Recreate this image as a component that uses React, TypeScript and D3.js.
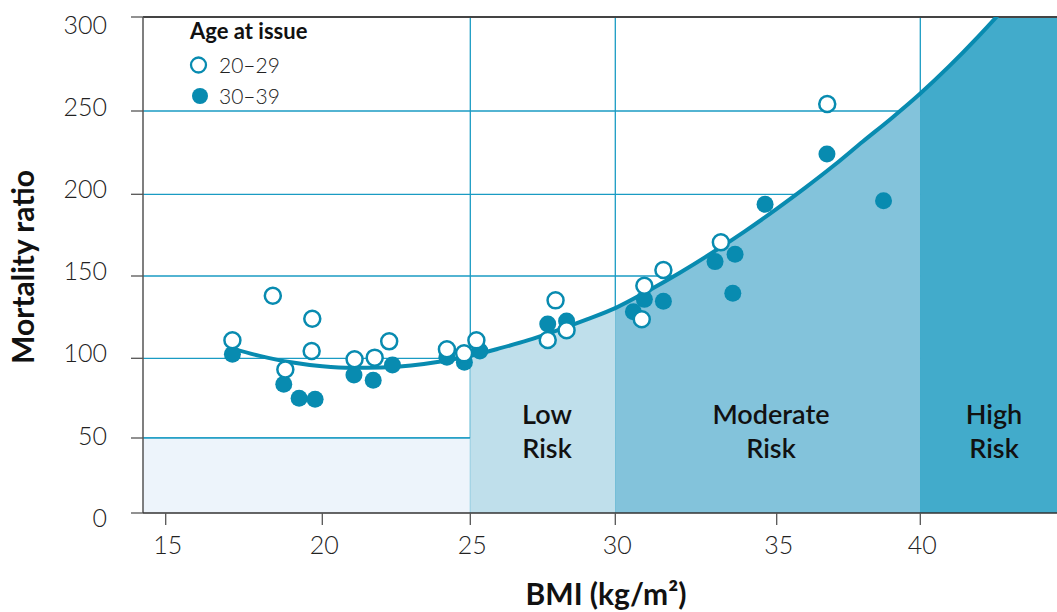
import React from "react";
import * as d3 from "d3";

// tick values
const bmiTicks = [15, 20, 25, 30, 35, 40];
const ratioTicks = [0, 50, 100, 150, 200, 250, 300];
const gridRatios = [50, 100, 150, 200, 250];
const gridBmis = [25, 30, 40];

// age at issue 20-29 (open circles): [bmi, mortality ratio]
const age2029 = [
  [17.13, 111], [18.42, 138], [19.68, 124], [19.66, 104.4], [18.82, 93],
  [21.09, 99.4], [21.77, 100.4], [22.26, 110.3], [24.21, 105.5], [24.79, 103],
  [25.21, 110.9], [27.94, 135.2], [27.67, 111.1], [28.32, 117], [30.9, 144.1],
  [30.82, 123.7], [31.49, 153.7], [33.27, 170.6], [36.76, 253.7],
];

// age at issue 30-39 (filled circles)
const age3039 = [
  [17.13, 102.4], [18.77, 83.7], [19.26, 74.9], [19.77, 74.3], [21.07, 89.5],
  [21.72, 86.2], [22.37, 95.8], [24.21, 100.6], [24.8, 97.5], [25.33, 104.4],
  [27.67, 120.8], [28.32, 122.7], [30.56, 128.3], [30.9, 135.8], [31.49, 134.6],
  [33.09, 158.8], [33.71, 163.3], [33.64, 139.5], [34.64, 193.9], [36.75, 224.2],
  [38.72, 196.1],
];

// fitted curve
const fitBmi = [17.1, 18, 19, 20, 21, 22, 23, 24, 25, 26, 27, 28, 29, 30, 31, 32, 33, 34, 35, 36, 37, 38, 39, 40, 41, 42, 43, 44, 45];
const fitRatio = [106, 101.5, 97.5, 95, 94, 94.2, 95.5, 98, 101.5, 106, 111, 117, 123.5, 130.5, 140.8, 152, 164.2, 177.2, 191.1, 204, 217.4, 231.7, 245.7, 259.3, 273.7, 289.3, 306, 324, 343];

// risk bands
const bands = [
  { label: ["Low", "Risk"], from: 25, to: 30, color: "#bfdfeb" },
  { label: ["Moderate", "Risk"], from: 30, to: 40, color: "#83c3db" },
  { label: ["High", "Risk"], from: 40, to: 45, color: "#42abcb" },
];
const bandLabelX = [547, 771, 994];

const TEAL = "#088bb0";
const GRID = "#1a9bc3";
const FONT = "Lato, 'Open Sans', sans-serif";

export default function App() {
  const W = 1057;
  const H = 612;
  const left = 143;
  const right = 1057;
  const top = 17;
  const bottom = 513;

  // the printed axes are not quite even, so follow them piece by piece
  const x = d3.scaleLinear().domain(bmiTicks).range([165.7, 322.3, 470.3, 615.3, 776.7, 920.3]);
  const y = d3.scaleLinear().domain(ratioTicks).range([513, 438, 358.3, 276, 194.3, 111, 17]);
  const yLabel = d3.scaleLinear().domain([0, 300]).range([516.7, 23.7]);

  const fit = fitBmi.map((b, i) => [b, fitRatio[i]]);
  const line = d3
    .line<number[]>()
    .x((d) => x(d[0]))
    .y((d) => y(d[1]))
    .curve(d3.curveMonotoneX);
  const area = d3
    .area<number[]>()
    .x((d) => x(d[0]))
    .y0(bottom)
    .y1((d) => y(d[1]))
    .curve(d3.curveMonotoneX);

  return (
    <svg width={W} height={H} style={{ position: "absolute", left: 0, top: 0, fontFamily: FONT }}>
      <defs>
        <clipPath id="plot">
          <rect x={left} y={top} width={right - left} height={bottom - top} />
        </clipPath>
        {bands.map((b, i) => (
          <clipPath id={"band" + i} key={i}>
            <rect x={x(b.from)} y={top} width={Math.min(x(b.to), right) - x(b.from)} height={bottom - top} />
          </clipPath>
        ))}
      </defs>

      {/* grid */}
      {gridRatios.map((r) => (
        <line key={r} x1={left} x2={right} y1={y(r)} y2={y(r)} stroke={GRID} strokeWidth={1.3} />
      ))}
      {gridBmis.map((b) => (
        <line key={b} x1={x(b)} x2={x(b)} y1={top} y2={bottom} stroke={GRID} strokeWidth={1.3} />
      ))}

      {/* normal weight region */}
      <rect x={left} y={y(50)} width={x(25) - left} height={bottom - y(50)} fill="#edf4fb" />
      <line x1={left} x2={x(25)} y1={y(50)} y2={y(50)} stroke={GRID} strokeWidth={1.3} />
      <line x1={x(25)} x2={x(25)} y1={y(50)} y2={bottom} stroke="#6cbcd8" strokeWidth={1} />

      {/* risk bands under the curve */}
      <g clipPath="url(#plot)">
        {bands.map((b, i) => (
          <path key={i} d={area(fit) || ""} fill={b.color} clipPath={`url(#band${i})`} />
        ))}
      </g>

      {bands.map((b, i) => (
        <text key={i} textAnchor="middle" fontSize={27} fontWeight={600} fill="#111">
          <tspan x={bandLabelX[i]} y={424}>{b.label[0]}</tspan>
          <tspan x={bandLabelX[i]} y={457.5}>{b.label[1]}</tspan>
        </text>
      ))}

      {/* axes */}
      <line x1={left} x2={right} y1={top} y2={top} stroke="#444" strokeWidth={2} />
      <line x1={left} x2={left} y1={top} y2={bottom} stroke="#555" strokeWidth={1.5} />
      <line x1={left} x2={right} y1={bottom} y2={bottom} stroke="#333" strokeWidth={1.5} />
      {ratioTicks.map((r) => (
        <g key={r}>
          <line x1={131} x2={left} y1={y(r)} y2={y(r)} stroke="#555" strokeWidth={1.3} />
          <text x={107} y={yLabel(r)} textAnchor="end" dominantBaseline="central" fontSize={25} fontWeight={300} fill="#222">
            {r}
          </text>
        </g>
      ))}
      {bmiTicks.map((b) => (
        <g key={b}>
          <line x1={x(b)} x2={x(b)} y1={bottom} y2={525} stroke="#555" strokeWidth={1.3} />
          <text x={x(b) + 2} y={554} textAnchor="middle" fontSize={25} fontWeight={300} fill="#222">
            {b}
          </text>
        </g>
      ))}
      <text x={606} y={605} textAnchor="middle" fontSize={30} fontWeight={700} fill="#111">
        BMI (kg/m²)
      </text>
      <text
        transform="translate(34,267) rotate(-90)"
        textAnchor="middle"
        fontSize={30}
        fontWeight={700}
        fill="#111"
      >
        Mortality ratio
      </text>

      {/* fitted curve and points */}
      <g clipPath="url(#plot)">
        <path d={line(fit) || ""} fill="none" stroke={TEAL} strokeWidth={4} />
        {age3039.map((d, i) => (
          <circle key={"f" + i} cx={x(d[0])} cy={y(d[1])} r={8.5} fill={TEAL} />
        ))}
        {age2029.map((d, i) => (
          <circle key={"o" + i} cx={x(d[0])} cy={y(d[1])} r={8} fill="#fff" stroke={TEAL} strokeWidth={2.5} />
        ))}
      </g>

      {/* legend */}
      <text x={190} y={39} fontSize={22} fontWeight={700} fill="#111">
        Age at issue
      </text>
      <circle cx={198.5} cy={65} r={7.5} fill="#fff" stroke={TEAL} strokeWidth={2.3} />
      <text x={219} y={72.5} fontSize={21} fontWeight={300} fill="#222">
        20–29
      </text>
      <circle cx={200} cy={96} r={8} fill={TEAL} />
      <text x={219} y={104} fontSize={21} fontWeight={300} fill="#222">
        30–39
      </text>
    </svg>
  );
}
